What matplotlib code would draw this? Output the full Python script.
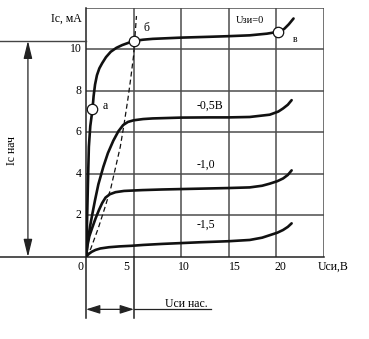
import matplotlib
matplotlib.use('Agg')
import matplotlib.pyplot as plt

plt.rcParams['font.family'] = ['Liberation Serif', 'DejaVu Serif']

# drain characteristics (Uси in V, Iс in mA)
u_gs0 = [0, 0.1, 0.2, 0.3, 0.45, 0.68, 0.8, 0.95, 1.15, 1.4, 1.7, 2.1, 2.6, 3.2, 3.8, 4.4, 5.0,
         6.0, 7.0, 10, 13, 15, 17.2, 19, 20.2, 20.8, 21.3, 21.8]
i_gs0 = [0, 1.5, 3.5, 5.3, 6.3, 7.1, 7.75, 8.3, 8.75, 9.08, 9.33, 9.62, 9.88, 10.07, 10.2, 10.3, 10.4,
         10.46, 10.5, 10.56, 10.6, 10.63, 10.67, 10.75, 10.84, 10.97, 11.2, 11.48]

u_gs05 = [0, 0.2, 0.42, 0.7, 0.95, 1.3, 1.82, 2.3, 2.87, 3.4, 3.9, 4.4, 5.0, 6.0, 7, 10,
          13, 15, 17.2, 19.3, 20.2, 20.7, 21.2, 21.6]
i_gs05 = [0, 0.8, 1.46, 2.15, 2.74, 3.5, 4.34, 5.0, 5.6, 6.05, 6.35, 6.5, 6.58, 6.64, 6.67, 6.71,
          6.72, 6.72, 6.74, 6.85, 7.0, 7.15, 7.33, 7.55]

u_gs10 = [0, 0.15, 0.35, 0.65, 1.0, 1.35, 1.7, 2.05, 2.5, 3.1, 4, 5.9, 8, 10, 13, 15,
          17.2, 18.5, 19.3, 20.1, 20.7, 21.2, 21.6]
i_gs10 = [0, 0.55, 1.0, 1.4, 1.85, 2.25, 2.6, 2.86, 3.02, 3.12, 3.18, 3.22, 3.25, 3.27, 3.3, 3.32,
          3.35, 3.43, 3.53, 3.65, 3.78, 3.95, 4.17]

u_gs15 = [0, 0.3, 0.6, 1.0, 1.5, 2.4, 3.5, 4.8, 6, 8, 10, 12, 15, 17.2, 18.5, 19.3,
          20.1, 20.7, 21.2, 21.6]
i_gs15 = [0, 0.15, 0.25, 0.34, 0.41, 0.47, 0.51, 0.54, 0.58, 0.63, 0.67, 0.71, 0.76, 0.82, 0.93, 1.05,
          1.17, 1.3, 1.45, 1.62]

# saturation boundary (dashed)
u_sat = [0, 0.5, 1.3, 2.0, 2.6, 3.1, 3.6, 4.0, 4.4, 4.7, 5.0, 5.3]
i_sat = [0, 0.4, 1.4, 2.4, 3.3, 4.3, 5.3, 6.4, 7.6, 8.6, 9.7, 11.6]

# marked points а, б, в
pts_u = [0.68, 5.04, 20.2]
pts_i = [7.1, 10.41, 10.84]
pts_names = ['а', 'б', 'в']

x_ticks = [0, 5, 10, 15, 20]
y_ticks = [2, 4, 6, 8, 10]
curve_names = ['Uзи=0', '-0,5В', '-1,0', '-1,5']

i_start = 10.41   # Iс нач level
u_sat_b = 5.04    # Uси нас

W, H = 369, 339
fig = plt.figure(figsize=(W / 100, H / 100), dpi=100)
ax = fig.add_axes([86 / W, (H - 257) / H, 238 / W, 249.3 / H])
ax.set_xlim(0, 25)
ax.set_ylim(0, 12)
ax.set_axis_off()

gcol = '#4d4d4d'
for x in [5, 10, 15, 20, 25]:
    ax.plot([x, x], [0, 12], color=gcol, lw=1.1, zorder=1)
for y in [2, 4, 6, 8, 10, 12]:
    ax.plot([0, 25], [y, y], color=gcol, lw=1.1, zorder=1)

# axes, extended past the grid
ax.plot([-9.1, 25], [0, 0], color='#222222', lw=1.1, clip_on=False, zorder=2)
ax.plot([0, 0], [-2.95, 12], color='#222222', lw=1.1, clip_on=False, zorder=2)
ax.plot([5, 5], [-2.95, 0], color='#222222', lw=1.1, clip_on=False, zorder=2)
ax.plot([-9.1, 0], [i_start, i_start], color='#444444', lw=1.0, clip_on=False, zorder=2)

for u, i in [(u_gs0, i_gs0), (u_gs05, i_gs05), (u_gs10, i_gs10), (u_gs15, i_gs15)]:
    ax.plot(u, i, color='#111111', lw=1.9, solid_capstyle='round', solid_joinstyle='round', zorder=3)

ax.plot(u_sat, i_sat, color='#111111', lw=0.9, dashes=(4, 2.5), zorder=3)
ax.plot(pts_u, pts_i, 'o', ms=7.5, mfc='white', mec='#111111', mew=0.9, zorder=4)

fs = 8.5
ax.text(pts_u[0] + 1.35, pts_i[0] + 0.15, pts_names[0], fontsize=fs, ha='center', va='center')
ax.text(pts_u[1] + 1.35, pts_i[1] + 0.6, pts_names[1], fontsize=fs, ha='center', va='center')
ax.text(pts_u[2] + 1.75, pts_i[2] - 0.35, pts_names[2], fontsize=7, ha='center', va='center')

ax.text(17.2, 11.4, curve_names[0], fontsize=7.5, ha='center', va='center')
ax.text(13.0, 7.27, curve_names[1], fontsize=fs, ha='center', va='center')
ax.text(12.6, 4.45, curve_names[2], fontsize=fs, ha='center', va='center')
ax.text(12.6, 1.54, curve_names[3], fontsize=fs, ha='center', va='center')

for y in y_ticks:
    ax.text(-0.45, y, str(y), fontsize=fs, ha='right', va='center', clip_on=False)
x_lab_pos = [-0.63, 4.2, 10.25, 15.65, 20.45]
for x, p in zip(x_ticks, x_lab_pos):
    ax.text(p, -0.47, str(x), fontsize=fs, ha='center', va='center', clip_on=False)

ax.text(-0.4, 11.45, 'Iс, мА', fontsize=fs, ha='right', va='center')
ax.text(26.0, -0.47, 'Uси,В', fontsize=fs, ha='center', va='center', clip_on=False)

# Iс нач dimension arrow
ax.annotate('', xy=(-6.1, 0), xytext=(-6.1, i_start),
            arrowprops=dict(arrowstyle='<|-|>,head_length=0.9,head_width=0.22',
                            color='#222222', lw=0.9, mutation_scale=12, shrinkA=0, shrinkB=0),
            annotation_clip=False)
ax.text(-7.8, 5.1, 'Iс нач', fontsize=fs, rotation=90, ha='center', va='center', clip_on=False)

# Uси нас dimension arrow
ax.annotate('', xy=(0, -2.52), xytext=(u_sat_b, -2.52),
            arrowprops=dict(arrowstyle='<|-|>,head_length=0.7,head_width=0.22',
                            color='#222222', lw=0.9, mutation_scale=12, shrinkA=0, shrinkB=0),
            annotation_clip=False)
ax.plot([u_sat_b, 13.1], [-2.52, -2.52], color='#222222', lw=0.9, clip_on=False)
ax.text(10.5, -2.25, 'Uси нас.', fontsize=fs, ha='center', va='center', clip_on=False)

fig.savefig('out.png', dpi=100)
